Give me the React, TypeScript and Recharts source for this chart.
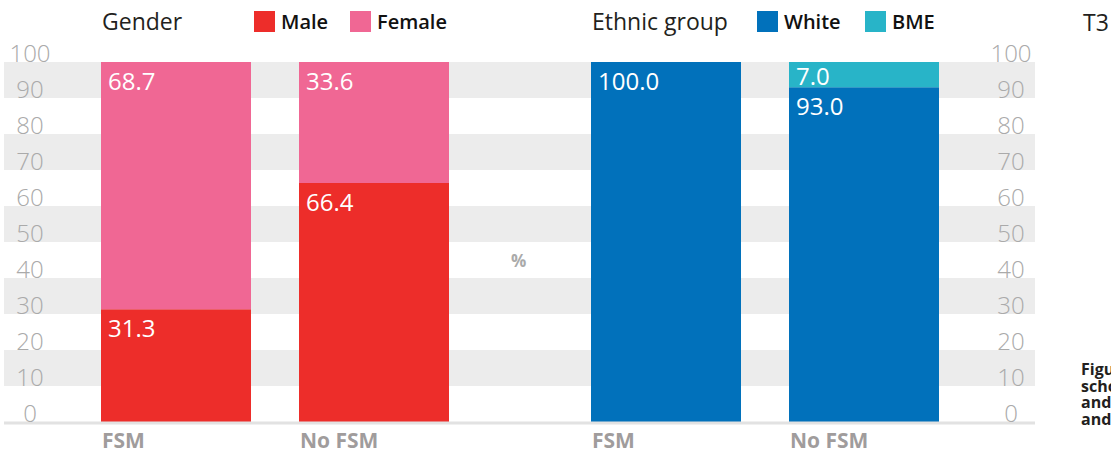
import React from 'react'
import {
  BarChart,
  Bar,
  XAxis,
  YAxis,
  CartesianGrid,
  LabelList,
} from 'recharts'

const categories = ['FSM', 'No FSM']
const male = [31.3, 66.4]
const female = [68.7, 33.6]
const white = [100.0, 93.0]
const bme = [null, 7.0]
const yTicks = [0, 10, 20, 30, 40, 50, 60, 70, 80, 90, 100]

const genderLegend = [
  { name: 'Male', color: '#ed2d2a', left: 254 },
  { name: 'Female', color: '#f06794', left: 350 },
]
const ethnicLegend = [
  { name: 'White', color: '#0171bb', left: 757 },
  { name: 'BME', color: '#28b4c8', left: 865 },
]
const captionLines = [
  'Figure 3: Pupils in the',
  'schools by gender',
  'and ethnic group',
  'and FSM eligibility',
]

const data = categories.map((cat, i) => ({
  cat,
  male: male[i],
  female: female[i],
  white: white[i],
  bme: bme[i],
}))

const FONT = '"Open Sans", sans-serif'
const BAR_W = 150

const ValueLabel = (props: any) => {
  const { x, y, height, value } = props
  if (value == null) return null
  return (
    <text
      x={x + 7}
      y={y + Math.min(28, height - 2)}
      fill="#fff"
      fontSize={24}
      fontFamily={FONT}
    >
      {Number(value).toFixed(1)}
    </text>
  )
}

const CatTick = (props: any) => {
  const { x, payload } = props
  return (
    <text
      x={x - BAR_W / 2 + 1}
      y={422 + 26}
      fill="#a09c9c"
      fontSize={21}
      fontWeight={700}
      fontFamily={FONT}
    >
      {payload.value}
    </text>
  )
}

const LeftTick = (props: any) => {
  const { y, payload } = props
  return (
    <text x={30} y={y - 9} dy="0.355em" textAnchor="middle" fill="#aaaaaa" fontSize={24} fontWeight={300} fontFamily={FONT}>
      {payload.value}
    </text>
  )
}

const RightTick = (props: any) => {
  const { y, payload } = props
  return (
    <text x={1011} y={y - 9} dy="0.355em" textAnchor="middle" fill="#aaaaaa" fontSize={24} fontWeight={300} fontFamily={FONT}>
      {payload.value}
    </text>
  )
}

const Legend = ({ title, items, left }: { title: string; items: any[]; left: number }) => (
  <>
    <div style={{ position: 'absolute', left, top: 5, fontFamily: FONT, fontSize: 23, color: '#231f20', whiteSpace: 'nowrap' }}>
      {title}
    </div>
    {items.map(it => (
      <div
        key={it.name}
        style={{ position: 'absolute', left: it.left, top: 11, display: 'flex', alignItems: 'center', fontFamily: FONT, whiteSpace: 'nowrap' }}
      >
        <span style={{ width: 21, height: 21, background: it.color, marginRight: 6 }} />
        <span style={{ fontSize: 20, fontWeight: 600, color: '#111', lineHeight: '21px' }}>{it.name}</span>
      </div>
    ))}
  </>
)

export default function App() {
  return (
    <div
      style={{
        position: 'absolute',
        left: 0,
        top: 0,
        width: 1111,
        height: 452,
        overflow: 'hidden',
        background: '#fff',
      }}
    >
      <BarChart
        width={1111}
        height={452}
        data={data}
        margin={{ top: 62, right: 75, left: 3, bottom: 28 }}
      >
        <CartesianGrid
          xAxisId="g"
          yAxisId="l"
          vertical={false}
          stroke="none"
          horizontalFill={['#ececec', '#ffffff']}
        />
        <XAxis
          xAxisId="g"
          dataKey="cat"
          height={1}
          padding={{ left: 73, right: 562 }}
          axisLine={{ stroke: '#e2e2e2', strokeWidth: 3 }}
          tickLine={false}
          tickSize={0}
          tickMargin={0}
          tick={CatTick}
          interval={0}
        />
        <XAxis
          xAxisId="e"
          dataKey="cat"
          height={1}
          padding={{ left: 563, right: 72 }}
          axisLine={false}
          tickLine={false}
          tickSize={0}
          tickMargin={0}
          tick={CatTick}
          interval={0}
        />
        <YAxis
          yAxisId="l"
          width={1}
          domain={[0, 100]}
          ticks={yTicks}
          interval={0}
          axisLine={false}
          tickLine={false}
          tickSize={0}
          tickMargin={0}
          tick={LeftTick}
        />
        <YAxis
          yAxisId="r"
          orientation="right"
          width={1}
          domain={[0, 100]}
          allowDataOverflow
          ticks={yTicks}
          interval={0}
          axisLine={false}
          tickLine={false}
          tickSize={0}
          tickMargin={0}
          tick={RightTick}
        />
        <Bar xAxisId="g" yAxisId="l" dataKey="male" stackId="g" fill="#ed2d2a" barSize={BAR_W} isAnimationActive={false}>
          <LabelList dataKey="male" content={ValueLabel} />
        </Bar>
        <Bar xAxisId="g" yAxisId="l" dataKey="female" stackId="g" fill="#f06794" barSize={BAR_W} isAnimationActive={false}>
          <LabelList dataKey="female" content={ValueLabel} />
        </Bar>
        <Bar xAxisId="e" yAxisId="l" dataKey="white" stackId="e" fill="#0171bb" barSize={BAR_W} isAnimationActive={false}>
          <LabelList dataKey="white" content={ValueLabel} />
        </Bar>
        <Bar xAxisId="e" yAxisId="l" dataKey="bme" stackId="e" fill="#28b4c8" barSize={BAR_W} isAnimationActive={false}>
          <LabelList dataKey="bme" content={ValueLabel} />
        </Bar>
      </BarChart>

      <Legend title="Gender" items={genderLegend} left={102} />
      <Legend title="Ethnic group" items={ethnicLegend} left={592} />

      <div style={{ position: 'absolute', left: 511, top: 249, fontFamily: FONT, fontSize: 17, fontWeight: 700, color: '#aaaaaa' }}>
        %
      </div>
      <div style={{ position: 'absolute', left: 1083, top: 6, fontFamily: FONT, fontSize: 23, color: '#231f20' }}>
        T3
      </div>
      {captionLines.map((line, i) => (
        <div
          key={i}
          style={{
            position: 'absolute',
            left: 1081,
            top: 361 + i * 16.5,
            fontFamily: FONT,
            fontSize: 16,
            fontWeight: 700,
            lineHeight: '16px',
            color: '#231f20',
            whiteSpace: 'nowrap',
          }}
        >
          {line}
        </div>
      ))}
    </div>
  )
}
